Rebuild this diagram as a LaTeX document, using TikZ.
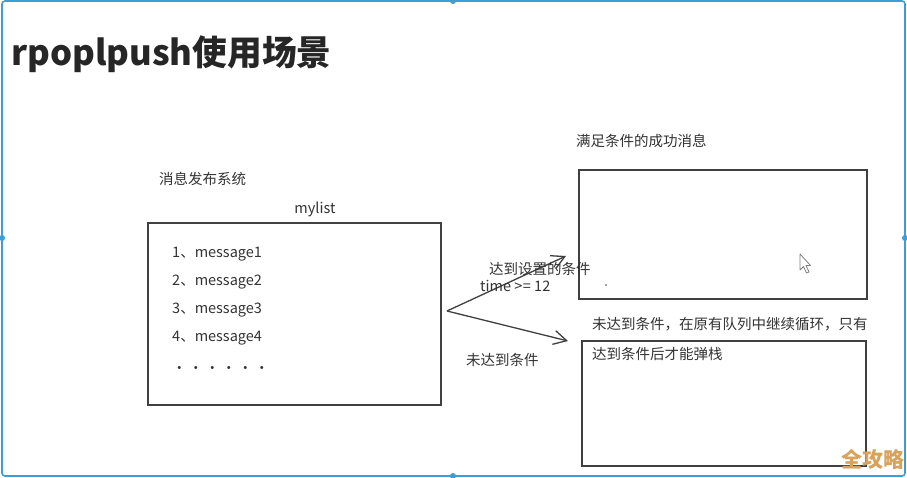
\documentclass[tikz,border=0pt]{standalone}
\usepackage{fontspec}
\setmainfont{Noto Sans CJK SC}
\usetikzlibrary{arrows.meta}
\definecolor{frameblue}{HTML}{3A9FD6}
\definecolor{boxgray}{HTML}{404040}
\definecolor{txtgray}{HTML}{333333}
\definecolor{wmark}{HTML}{D8A25A}
\tikzset{
  box/.style={draw=boxgray, line width=1.3pt, minimum width=#1, inner sep=0pt},
  lbl/.style={anchor=west, inner sep=0pt, text=txtgray, font=\fontsize{14.5}{16}\selectfont, yshift=-1.5pt},
  conn/.style={draw=boxgray, line width=1.3pt, -{Straight Barb[length=13pt,width=14pt,line width=1.3pt]}},
  handle/.style={circle, fill=frameblue, inner sep=0pt, minimum size=6pt}
}
\begin{document}
\begin{tikzpicture}[x=1pt,y=-1pt]
\useasboundingbox (0,0) rectangle (907,478);
\fill[white] (0,0) rectangle (907,478);
% frame
\draw[frameblue, line width=1.6pt, rounded corners=3pt] (2,1) rectangle (905,476);
\node[handle] (h1) at (453,1) {};
\node[handle] (h2) at (453,476) {};
\node[handle] (h3) at (2,238) {};
\node[handle] (h4) at (905,238) {};
% title
\node[anchor=west, inner sep=0pt, text=black!85, font=\fontsize{34.7}{38}\selectfont\bfseries] (title) at (11,54) {rpoplpush使用场景};
% left part
\node[lbl] (sys) at (159,177) {消息发布系统};
\node[lbl, anchor=center] (mylist) at (315,208) {mylist};
\node[box=293pt, minimum height=182pt] (list) at (294.5,314) {};
\node[lbl] (m1) at (172,253) {1、message1};
\node[lbl] (m2) at (172,281) {2、message2};
\node[lbl] (m3) at (172,309) {3、message3};
\node[lbl] (m4) at (172,337) {4、message4};
\node[lbl] (dots) at (172,368) {·\hspace{2pt}·\hspace{2pt}·\hspace{2pt}·\hspace{2pt}·\hspace{2pt}·};
% right boxes
\node[lbl] (okt) at (576,139) {满足条件的成功消息};
\node[box=288pt, minimum height=129pt] (ok) at (723,234.5) {};
\node[lbl] (nt1) at (592,323) {未达到条件，在原有队列中继续循环，只有};
\node[box=284pt, minimum height=125pt] (no) at (724,403.5) {};
\node[lbl] (nt2) at (592,352) {达到条件后才能弹栈};
% arrows
\coordinate (src) at (447,311);
\coordinate (tipA) at (566,256);
\coordinate (tipB) at (568,341);
\draw[conn] (src) -- (tipA);
\draw[conn] (src) -- (tipB);
\node[lbl] (cond) at (489,267) {达到设置的条件};
\node[lbl] (time) at (480,284) {time >\hspace{0.5pt}= 12};
\node[lbl] (ncond) at (466,358) {未达到条件};
% small dot and cursor
\fill[boxgray] (606,285) circle (0.9);
\draw[gray, line width=0.8pt, fill=white, line join=round] (800,254) -- (800,270) -- (803.5,266.5) -- (806.5,273) -- (809,272) -- (806,265.5) -- (810.5,265.5) -- cycle;
% watermark
\node[anchor=east, inner sep=0pt, text=wmark, font=\fontsize{21}{24}\selectfont\bfseries] (wm) at (905,459) {全攻略};
\end{tikzpicture}
\end{document}
